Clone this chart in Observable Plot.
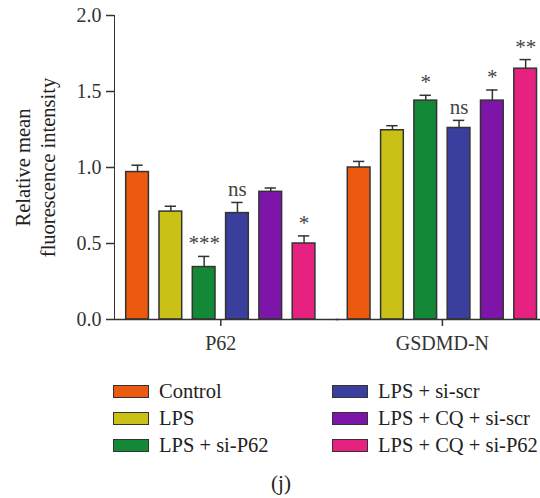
<!DOCTYPE html>
<html>
<head>
<meta charset="utf-8">
<script src="https://cdn.jsdelivr.net/npm/d3@7"></script>
<script src="https://cdn.jsdelivr.net/npm/@observablehq/plot@0.6"></script>
<style>
  body { margin: 0; background: #fff; }
  #wrap { width: 540px; height: 498px; position: relative; font-family: "Liberation Serif", "Times New Roman", Times, "DejaVu Serif", serif; color: #222; }
  #legend { position: relative; width: 540px; height: 133px; }
  .item { position: absolute; display: flex; align-items: center; font-size: 20.5px; line-height: 21px; white-space: nowrap; }
  .sw { width: 34px; height: 11px; border: 1.5px solid #333; margin-right: 10px; }
  #cap { position: absolute; left: 0; width: 562px; text-align: center; top: 106px; font-size: 21px; }
  svg [aria-label="y-axis tick"] path, svg [aria-label="fx-axis tick"] path { stroke-width: 1.5; }
  svg text { font-family: "Liberation Serif", "Times New Roman", Times, "DejaVu Serif", serif; }
</style>
</head>
<body>
<div id="wrap">
  <div id="chart"></div>
  <div id="legend"></div>
</div>
<script>
const groups = ["P62", "GSDMD-N"];
const series = ["Control", "LPS", "LPS + si-P62", "LPS + si-scr", "LPS + CQ + si-scr", "LPS + CQ + si-P62"];
const colors = ["#EB5A0F", "#C9C116", "#138836", "#3A3E9C", "#7D15A9", "#E6217F"];
const p62Means = [0.97, 0.71, 0.345, 0.70, 0.84, 0.50];
const p62Errs = [0.045, 0.035, 0.07, 0.07, 0.025, 0.05];
const p62Sig = ["", "", "***", "ns", "", "*"];
const gsdmdMeans = [1.00, 1.245, 1.44, 1.26, 1.44, 1.65];
const gsdmdErrs = [0.04, 0.03, 0.035, 0.05, 0.07, 0.06];
const gsdmdSig = ["", "", "*", "ns", "*", "**"];
const yTicks = [0, 0.5, 1.0, 1.5, 2.0];
const yLabel = "Relative mean\nfluorescence intensity";
const caption = "(j)";

const rows = [];
series.forEach((s, i) => {
  rows.push({group: groups[0], series: s, mean: p62Means[i], err: p62Errs[i], sig: p62Sig[i]});
});
series.forEach((s, i) => {
  rows.push({group: groups[1], series: s, mean: gsdmdMeans[i], err: gsdmdErrs[i], sig: gsdmdSig[i]});
});

const chart = Plot.plot({
  width: 540,
  height: 365,
  marginLeft: 114,
  marginRight: -8.2,
  marginTop: 15,
  marginBottom: 46,
  style: {fontFamily: "'Liberation Serif', 'Times New Roman', Times, serif", fontSize: "20px", color: "#333", background: "#fff"},
  fx: {domain: groups, axis: "bottom", tickSize: 7, tickPadding: 9, label: null, paddingInner: 0.0406, paddingOuter: 0, round: false},
  x: {domain: series, axis: null, paddingInner: 0.318, paddingOuter: 0.351, round: false},
  y: {domain: [0, 2], ticks: yTicks, tickFormat: d3.format(".1f"), tickSize: 8, tickPadding: 5, line: true, label: null},
  color: {domain: series, range: colors},
  marks: [
    Plot.barY(rows, {fx: "group", x: "series", y: "mean", fill: "series", stroke: "#333", strokeWidth: 1.5}),
    Plot.ruleX(rows, {fx: "group", x: "series", y1: "mean", y2: d => d.mean + d.err, stroke: "#333", strokeWidth: 1.5}),
    Plot.tickY(rows, {fx: "group", x: "series", y: d => d.mean + d.err, stroke: "#333", strokeWidth: 1.5, insetLeft: 5.7, insetRight: 5.7}),
    Plot.text(rows, {fx: "group", x: "series", y: d => d.mean + d.err, text: "sig", lineAnchor: "bottom", dy: -6, fill: "#444", fontSize: 21}),
    Plot.ruleY([0], {stroke: "#333", strokeWidth: 1.5, insetRight: -12}),
    Plot.text([{group: groups[0]}], {fx: "group", text: () => yLabel, frameAnchor: "left", rotate: -90, dx: -80, lineHeight: 1.2, textAnchor: "middle", lineAnchor: "middle", fill: "#222", fontSize: 20.5})
  ]
});
document.getElementById("chart").appendChild(chart);

const legend = document.getElementById("legend");
const rowTops = [16, 43, 70];
series.forEach((s, i) => {
  const col = Math.floor(i / 3), r = i % 3;
  const it = document.createElement("div");
  it.className = "item";
  it.style.left = (col === 0 ? 113 : 332) + "px";
  it.style.top = rowTops[r] + "px";
  const sw = document.createElement("div");
  sw.className = "sw";
  sw.style.background = colors[i];
  const tx = document.createElement("span");
  tx.textContent = s;
  it.appendChild(sw);
  it.appendChild(tx);
  legend.appendChild(it);
});
const cap = document.createElement("div");
cap.id = "cap";
cap.textContent = caption;
legend.appendChild(cap);
</script>
</body>
</html>
